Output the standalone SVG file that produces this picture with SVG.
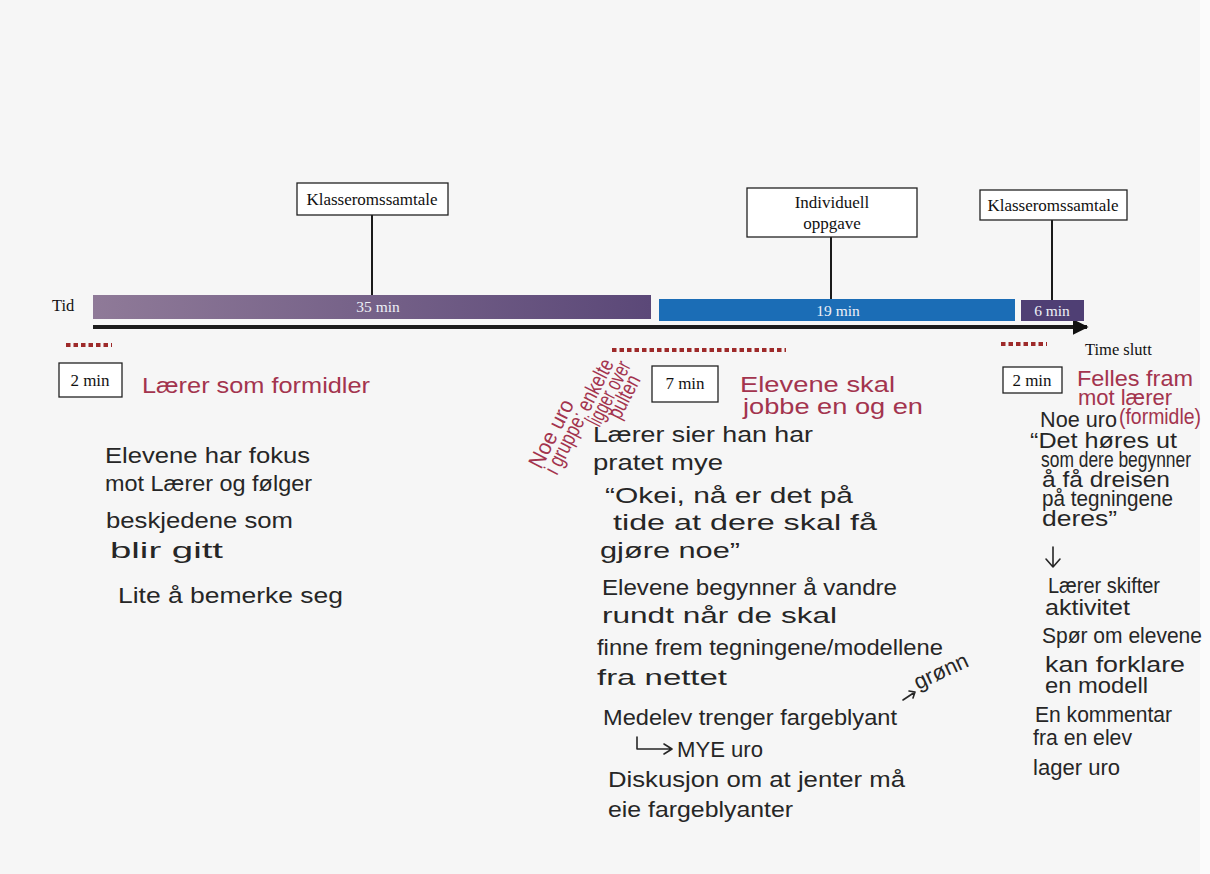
<svg xmlns="http://www.w3.org/2000/svg" width="1210" height="874" viewBox="0 0 1210 874">
<style>
.box{fill:#ffffff;stroke:#222;stroke-width:1.3}
.lbl{font-family:"Liberation Serif","Times New Roman",serif;font-size:17px;fill:#111;text-anchor:middle}
.ser{font-family:"Liberation Serif","Times New Roman",serif;font-size:16.5px;fill:#111}
.bar{font-family:"Liberation Serif","Times New Roman",serif;font-size:15.5px;fill:#eef0f6;text-anchor:middle}
.hw{font-family:"Liberation Sans",Arial,sans-serif;font-size:22px;fill:#262626}
.hr{font-family:"Liberation Sans",Arial,sans-serif;font-size:22px;fill:#a3344e}
.stem{stroke:#1a1a1a;stroke-width:2;fill:none}
.dot{stroke:#9e2a2a;stroke-width:4;stroke-dasharray:4.5 3;fill:none}
.pen{stroke:#262626;stroke-width:1.6;fill:none;stroke-linecap:round;stroke-linejoin:round}
</style>
<defs>
<linearGradient id="purp" x1="0" x2="1" y1="0" y2="0">
<stop offset="0" stop-color="#8f7a98"/>
<stop offset="1" stop-color="#5b4878"/>
</linearGradient>
<marker id="ah" viewBox="0 0 10 10" refX="9" refY="5" markerWidth="4" markerHeight="4" orient="auto" markerUnits="strokeWidth">
<path d="M0,0 L10,5 L0,10 z" fill="#111"/>
</marker>
</defs>
<rect x="0" y="0" width="1210" height="874" fill="#f6f6f6"/>
<rect x="1200" y="0" width="10" height="874" fill="#fbfbfb"/>

<g id="connectors">
<line class="stem" x1="372" y1="215" x2="372" y2="296"/>
<line class="stem" x1="831" y1="237" x2="831" y2="299"/>
<line class="stem" x1="1052" y1="220" x2="1052" y2="300"/>
<line x1="93" y1="327" x2="1087" y2="327" stroke="#1c1c1c" stroke-width="4" marker-end="url(#ah)"/>
</g>

<g id="timeline">
<text class="ser" x="52" y="311">Tid</text>
<rect x="93" y="295" width="558" height="24" fill="url(#purp)"/>
<text class="bar" x="378" y="312" fill="#ddd6e2">35 min</text>
<rect x="659" y="299" width="356" height="22" fill="#1b6db6"/>
<text class="bar" x="838" y="316">19 min</text>
<rect x="1021" y="300" width="63" height="21" fill="#4f3f74"/>
<text class="bar" x="1052" y="316">6 min</text>
<text class="ser" x="1085" y="355">Time slutt</text>
<line class="dot" x1="66" y1="345" x2="112" y2="345"/>
<line class="dot" x1="612" y1="350" x2="786" y2="350"/>
<line class="dot" x1="1001" y1="344" x2="1047" y2="344"/>
</g>

<g id="n-klasse1">
<rect class="box" x="297" y="183" width="151" height="32"/>
<text class="lbl" x="372" y="205">Klasseromssamtale</text>
</g>
<g id="n-individuell">
<rect class="box" x="747" y="188" width="170" height="49"/>
<text class="lbl" x="832" y="208">Individuell</text>
<text class="lbl" x="832" y="229">oppgave</text>
</g>
<g id="n-klasse2">
<rect class="box" x="980" y="190" width="147" height="30"/>
<text class="lbl" x="1053" y="211">Klasseromssamtale</text>
</g>

<g id="n-2min-a">
<rect class="box" x="59" y="363" width="63" height="34"/>
<text class="lbl" x="90" y="386">2 min</text>
</g>
<g id="n-7min">
<rect class="box" x="652" y="366" width="66" height="36"/>
<text class="lbl" x="685" y="389">7 min</text>
</g>
<g id="n-2min-b">
<rect class="box" x="1003" y="367" width="59" height="26"/>
<text class="lbl" x="1032" y="386">2 min</text>
</g>

<g id="notes-left">
<text class="hr" x="142" y="393" textLength="228" lengthAdjust="spacingAndGlyphs">Lærer som formidler</text>
<text class="hw" x="105" y="463" textLength="205" lengthAdjust="spacingAndGlyphs">Elevene har fokus</text>
<text class="hw" x="105" y="491" textLength="207" lengthAdjust="spacingAndGlyphs">mot Lærer og følger</text>
<text class="hw" x="106" y="528" textLength="187" lengthAdjust="spacingAndGlyphs">beskjedene som</text>
<text class="hw" x="110" y="558" textLength="113" lengthAdjust="spacingAndGlyphs">blir gitt</text>
<text class="hw" x="118" y="603" textLength="225" lengthAdjust="spacingAndGlyphs">Lite å bemerke seg</text>
</g>

<g id="notes-middle">
<text class="hr" x="740" y="392" textLength="155" lengthAdjust="spacingAndGlyphs">Elevene skal</text>
<text class="hr" x="743" y="414" textLength="180" lengthAdjust="spacingAndGlyphs">jobbe en og en</text>
<g transform="translate(541,470) rotate(-63)">
<text class="hr" x="0" y="0" font-size="16" textLength="74" lengthAdjust="spacingAndGlyphs">Noe uro</text>
<text class="hr" x="2" y="17" font-size="12" textLength="126" lengthAdjust="spacingAndGlyphs">i gruppe: enkelte</text>
<text class="hr" x="64" y="33" font-size="12" textLength="70" lengthAdjust="spacingAndGlyphs">ligger over</text>
<text class="hr" x="80" y="48" font-size="12" textLength="46" lengthAdjust="spacingAndGlyphs">pulten</text>
</g>
<text class="hw" x="593" y="442" textLength="220" lengthAdjust="spacingAndGlyphs">Lærer sier han har</text>
<text class="hw" x="593" y="470" textLength="130" lengthAdjust="spacingAndGlyphs">pratet mye</text>
<text class="hw" x="605" y="503" textLength="248" lengthAdjust="spacingAndGlyphs">“Okei, nå er det på</text>
<text class="hw" x="613" y="530" textLength="264" lengthAdjust="spacingAndGlyphs">tide at dere skal få</text>
<text class="hw" x="600" y="558" textLength="140" lengthAdjust="spacingAndGlyphs">gjøre noe”</text>
<text class="hw" x="602" y="595" textLength="295" lengthAdjust="spacingAndGlyphs">Elevene begynner å vandre</text>
<text class="hw" x="602" y="623" textLength="235" lengthAdjust="spacingAndGlyphs">rundt når de skal</text>
<text class="hw" x="597" y="655" textLength="346" lengthAdjust="spacingAndGlyphs">finne frem tegningene/modellene</text>
<text class="hw" x="597" y="685" textLength="130" lengthAdjust="spacingAndGlyphs">fra nettet</text>
<text class="hw" x="603" y="725" textLength="294" lengthAdjust="spacingAndGlyphs">Medelev trenger fargeblyant</text>
<path class="pen" d="M903,700 L915,692 M909,691 L915,692 L913,698" stroke-width="1.2"/>
<text class="hw" font-size="12" transform="translate(918,690) rotate(-25)">grønn</text>
<path class="pen" d="M637,737 L637,749 L670,749 M664,744 L672,749 L664,754"/>
<text class="hw" x="677" y="757" textLength="86" lengthAdjust="spacingAndGlyphs">MYE uro</text>
<text class="hw" x="608" y="787" textLength="297" lengthAdjust="spacingAndGlyphs">Diskusjon om at jenter må</text>
<text class="hw" x="608" y="817" textLength="185" lengthAdjust="spacingAndGlyphs">eie fargeblyanter</text>
</g>

<g id="notes-right">
<text class="hr" x="1077" y="386" font-size="15" textLength="116" lengthAdjust="spacingAndGlyphs">Felles fram</text>
<text class="hr" x="1078" y="405" font-size="12" textLength="94" lengthAdjust="spacingAndGlyphs">mot lærer</text>
<text class="hw" x="1040" y="427" font-size="19" textLength="77" lengthAdjust="spacingAndGlyphs">Noe uro</text>
<text class="hr" x="1119" y="424" font-size="12.5" textLength="82" lengthAdjust="spacingAndGlyphs">(formidle)</text>
<text class="hw" x="1030" y="448" font-size="14" textLength="147" lengthAdjust="spacingAndGlyphs">“Det høres ut</text>
<text class="hw" x="1041" y="467" font-size="13" textLength="150" lengthAdjust="spacingAndGlyphs">som dere begynner</text>
<text class="hw" x="1042" y="487" font-size="13" textLength="128" lengthAdjust="spacingAndGlyphs">å få dreisen</text>
<text class="hw" x="1042" y="506" font-size="13" textLength="131" lengthAdjust="spacingAndGlyphs">på tegningene</text>
<text class="hw" x="1042" y="526" font-size="14" textLength="75" lengthAdjust="spacingAndGlyphs">deres”</text>
<path class="pen" d="M1053,547 L1053,567 M1046,559 L1053,567 L1060,559"/>
<text class="hw" x="1048" y="593" font-size="18" textLength="112" lengthAdjust="spacingAndGlyphs">Lærer skifter</text>
<text class="hw" x="1045" y="615" font-size="18" textLength="85" lengthAdjust="spacingAndGlyphs">aktivitet</text>
<text class="hw" x="1042" y="643" font-size="18" textLength="160" lengthAdjust="spacingAndGlyphs">Spør om elevene</text>
<text class="hw" x="1045" y="672" font-size="18" textLength="140" lengthAdjust="spacingAndGlyphs">kan forklare</text>
<text class="hw" x="1045" y="693" font-size="18" textLength="103" lengthAdjust="spacingAndGlyphs">en modell</text>
<text class="hw" x="1035" y="722" font-size="18" textLength="137" lengthAdjust="spacingAndGlyphs">En kommentar</text>
<text class="hw" x="1033" y="745" font-size="18" textLength="99" lengthAdjust="spacingAndGlyphs">fra en elev</text>
<text class="hw" x="1033" y="775" font-size="18" textLength="87" lengthAdjust="spacingAndGlyphs">lager uro</text>
</g>
</svg>
